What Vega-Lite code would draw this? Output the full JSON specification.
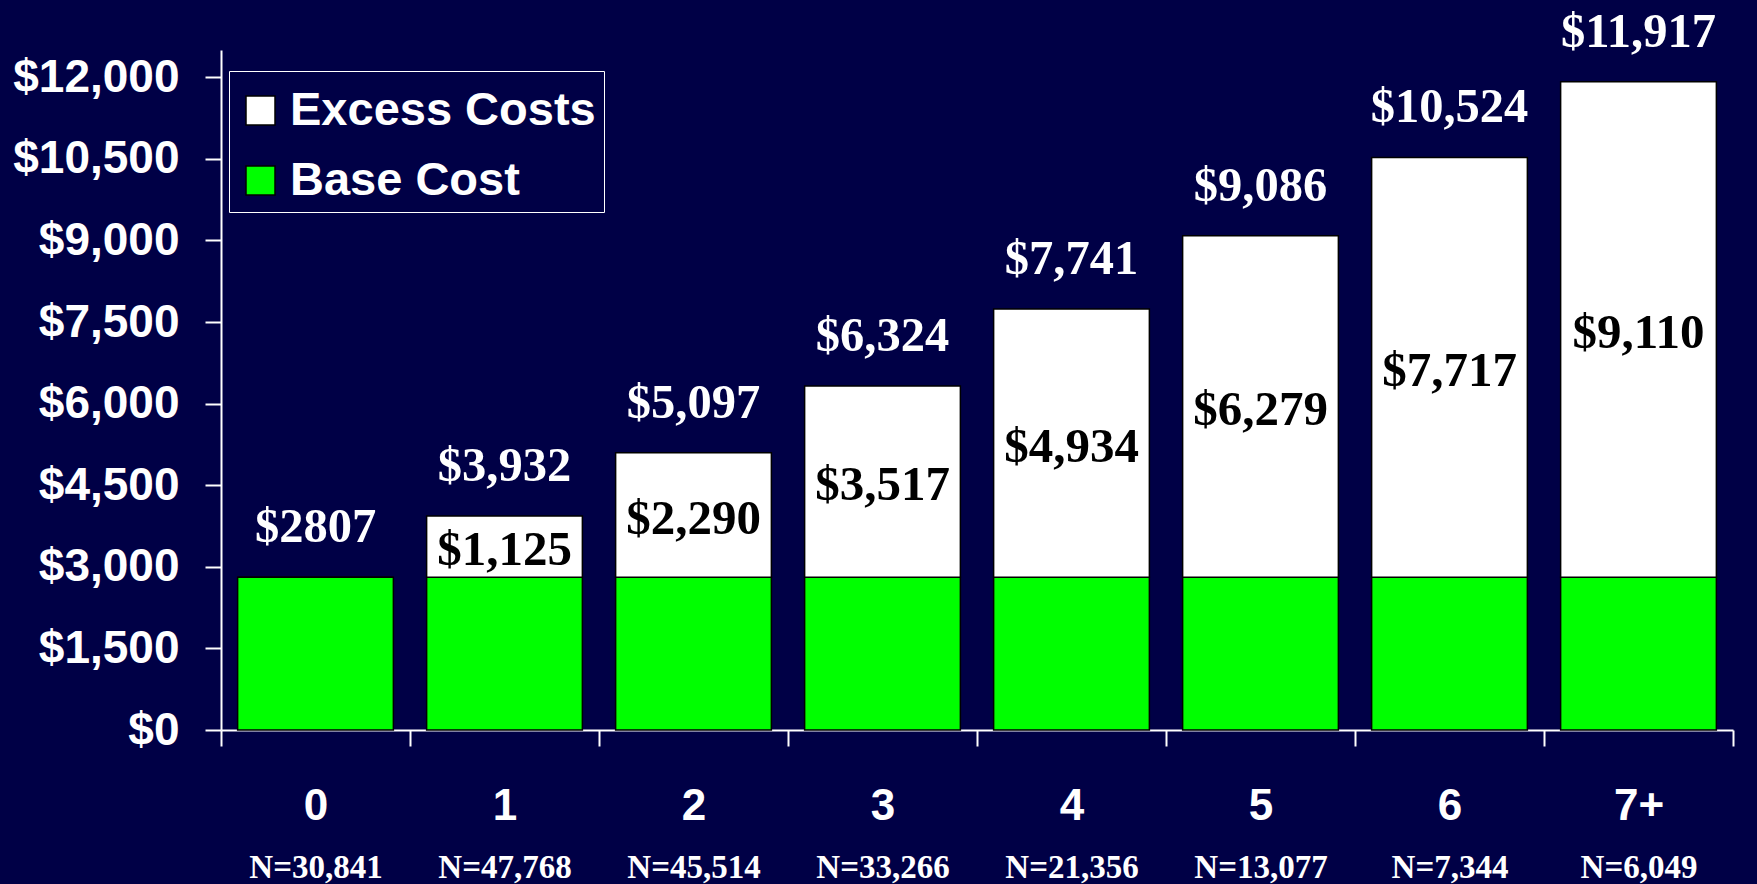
{
  "$schema": "https://vega.github.io/schema/vega-lite/v6.json",
  "width": 1512,
  "height": 680,
  "autosize": {"type": "none"},
  "padding": {"left": 221, "top": 50, "right": 24, "bottom": 154},
  "background": "#000046",
  "config": {"view": {"stroke": null}},
  "data": {"values": [
    {"cat": "0", "n": "N=30,841", "Base Cost": 2807, "Excess Costs": 0, "total": 2807, "totalLabel": "$2807", "excessLabel": ""},
    {"cat": "1", "n": "N=47,768", "Base Cost": 2807, "Excess Costs": 1125, "total": 3932, "totalLabel": "$3,932", "excessLabel": "$1,125"},
    {"cat": "2", "n": "N=45,514", "Base Cost": 2807, "Excess Costs": 2290, "total": 5097, "totalLabel": "$5,097", "excessLabel": "$2,290"},
    {"cat": "3", "n": "N=33,266", "Base Cost": 2807, "Excess Costs": 3517, "total": 6324, "totalLabel": "$6,324", "excessLabel": "$3,517"},
    {"cat": "4", "n": "N=21,356", "Base Cost": 2807, "Excess Costs": 4934, "total": 7741, "totalLabel": "$7,741", "excessLabel": "$4,934"},
    {"cat": "5", "n": "N=13,077", "Base Cost": 2807, "Excess Costs": 6279, "total": 9086, "totalLabel": "$9,086", "excessLabel": "$6,279"},
    {"cat": "6", "n": "N=7,344", "Base Cost": 2807, "Excess Costs": 7717, "total": 10524, "totalLabel": "$10,524", "excessLabel": "$7,717"},
    {"cat": "7+", "n": "N=6,049", "Base Cost": 2807, "Excess Costs": 9110, "total": 11917, "totalLabel": "$11,917", "excessLabel": "$9,110"}
  ]},
  "layer": [
    {
      "layer": [
        {
          "transform": [{"fold": ["Base Cost", "Excess Costs"], "as": ["component", "amount"]}],
          "mark": {"type": "bar", "stroke": "black", "strokeWidth": 1.5, "width": {"band": 0.824}},
          "encoding": {
            "x": {
              "field": "cat", "type": "nominal", "sort": null,
              "scale": {"paddingInner": 0, "paddingOuter": 0},
              "axis": {
                "orient": "bottom", "title": null, "labelAngle": 0,
                "labelFont": "Liberation Sans", "labelFontWeight": "bold", "labelFontSize": 44, "labelColor": "white",
                "domainColor": "white", "domainWidth": 2, "tickColor": "white", "tickWidth": 2, "tickSize": 16,
                "tickBand": "extent", "labelPadding": 38
              }
            },
            "y": {
              "field": "amount", "type": "quantitative", "stack": "zero",
              "scale": {"domain": [0, 12500], "nice": false},
              "axis": {
                "title": null, "grid": false,
                "values": [0, 1500, 3000, 4500, 6000, 7500, 9000, 10500, 12000],
                "labelExpr": "'$' + format(datum.value, ',')",
                "labelFont": "Liberation Sans", "labelFontWeight": "bold", "labelFontSize": 46, "labelColor": "white",
                "domainColor": "white", "domainWidth": 2, "tickColor": "white", "tickWidth": 2, "tickSize": 16,
                "labelPadding": 26
              }
            },
            "color": {
              "field": "component", "type": "nominal",
              "scale": {"domain": ["Excess Costs", "Base Cost"], "range": ["#ffffff", "#00ff00"]},
              "legend": {
                "orient": "none", "legendX": 8, "legendY": 21, "title": " ", "titleFontSize": 3, "titlePadding": 5,
                "strokeColor": "white", "padding": 8,
                "symbolType": "square", "symbolSize": 841, "symbolStrokeColor": "black", "symbolStrokeWidth": 1.5,
                "labelFont": "Liberation Sans", "labelFontWeight": "bold", "labelFontSize": 47, "labelColor": "white",
                "labelOffset": 6, "rowPadding": 22, "labelLimit": 0
              }
            },
            "order": {"field": "component", "sort": "ascending"}
          }
        },
        {
          "mark": {"type": "text", "font": "Liberation Serif", "fontWeight": "bold", "fontSize": 48.5, "color": "white", "baseline": "alphabetic", "dy": -35},
          "encoding": {
            "x": {"field": "cat", "type": "nominal", "sort": null},
            "y": {"field": "total", "type": "quantitative"},
            "text": {"field": "totalLabel"}
          }
        },
        {
          "transform": [{"fold": ["Base Cost", "total"], "as": ["edge", "edgeValue"]}],
          "mark": {"type": "text", "font": "Liberation Serif", "fontWeight": "bold", "fontSize": 49, "color": "black", "baseline": "middle", "dy": 3.5},
          "encoding": {
            "x": {"field": "cat", "type": "nominal", "sort": null},
            "y": {"aggregate": "mean", "field": "edgeValue", "type": "quantitative"},
            "text": {"field": "excessLabel"}
          }
        }
      ]
    },
    {
      "mark": {"type": "text", "opacity": 0},
      "encoding": {
        "x": {
          "field": "n", "type": "nominal", "sort": null,
          "scale": {"paddingInner": 0, "paddingOuter": 0},
          "axis": {
            "orient": "bottom", "title": null, "labelAngle": 0, "domain": false, "ticks": false, "tickSize": 0,
            "labelFont": "Liberation Serif", "labelFontWeight": "bold", "labelFontSize": 33, "labelColor": "white",
            "labelPadding": 121
          }
        },
        "text": {"value": ""}
      }
    }
  ],
  "resolve": {"scale": {"x": "independent"}, "axis": {"x": "independent"}}
}
